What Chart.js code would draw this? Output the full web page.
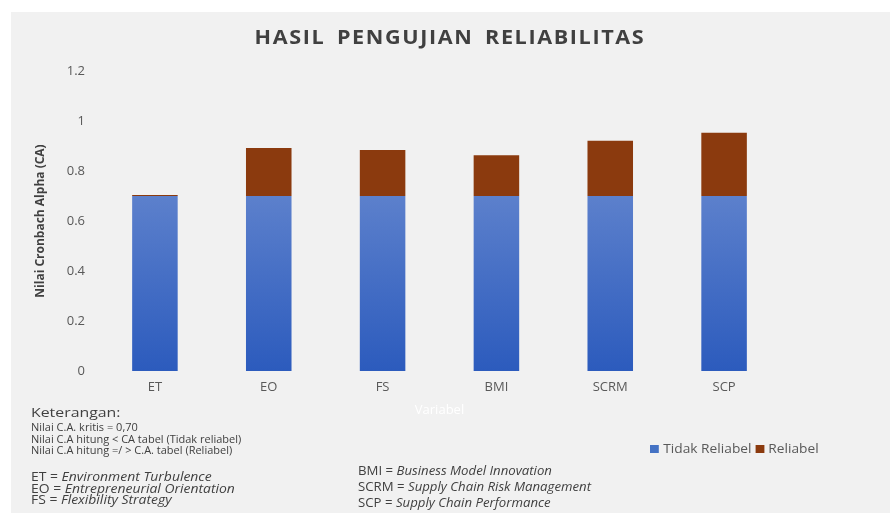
<!DOCTYPE html>
<html>
<head>
<meta charset="utf-8">
<script src="https://cdn.jsdelivr.net/npm/chart.js@4"></script>
<style>
    html, body { margin: 0; padding: 0; background: #ffffff; width: 891px; height: 518px; overflow: hidden; font-family: "Open Sans", sans-serif; }
    #panel { position: absolute; left: 11px; top: 12px; width: 879px; height: 501px; background: #f1f1f1; }
    #categoryChart { position: absolute; left: 0; top: 0; }
    .title { position: absolute; left: 0; width: 900px; top: 23px; text-align: center; font-weight: bold; font-size: 20px; letter-spacing: 1.5px; word-spacing: 4px; color: #404040; transform: scaleX(1.08); transform-origin: 450px 0; }
    .note { position: absolute; white-space: nowrap; color: #404040; transform-origin: 0 0; }
    .legend { position: absolute; top: 441px; font-size: 12.5px; line-height: 15px; color: #595959; white-space: nowrap; transform: scaleX(1.1); transform-origin: 0 0; }
    .legend span.box { display: inline-block; width: 8px; height: 8px; margin-right: 4px; }
</style>
</head>
<body>
<div id="panel">
    <canvas id="categoryChart" width="879" height="501"></canvas>
</div>
<div class="title">HASIL PENGUJIAN RELIABILITAS</div>

<div class="legend" style="left:650px;">
    <span class="box" style="background:#4472c4"></span>Tidak Reliabel
    <span class="box" style="background:#8b3a0e"></span>Reliabel
</div>

<div class="note" style="left:31px; top:405px; font-size:13px; line-height:15px; transform:scaleX(1.22);">Keterangan:</div>
<div class="note" style="left:31px; top:422px; font-size:10px; line-height:11.6px; transform:scaleX(1.1);">
    Nilai C.A. kritis = 0,70<br>
    Nilai C.A hitung &lt; CA tabel (Tidak reliabel)<br>
    Nilai C.A hitung =/ &gt; C.A. tabel (Reliabel)
</div>
<div class="note" style="left:31px; top:471px; font-size:12px; line-height:11.7px; transform:scaleX(1.16);">
    ET = <i>Environment Turbulence</i><br>
    EO = <i>Entrepreneurial Orientation</i><br>
    FS = <i>Flexibility Strategy</i>
</div>
<div class="note" style="left:358px; top:463px; font-size:12px; line-height:16px; transform:scaleX(1.1);">
    BMI = <i>Business Model Innovation</i><br>
    SCRM = <i>Supply Chain Risk Management</i><br>
    SCP = <i>Supply Chain Performance</i>
</div>

<script>
// values
const variabel = ['ET', 'EO', 'FS', 'BMI', 'SCRM', 'SCP'];
const tidakReliabel = [0.700, 0.700, 0.700, 0.700, 0.700, 0.700];
const reliabel = [0.004, 0.192, 0.184, 0.163, 0.221, 0.253];
const yTicks = [0, 0.2, 0.4, 0.6, 0.8, 1, 1.2];

document.addEventListener('DOMContentLoaded', () => {
    const ctx = document.getElementById('categoryChart');

    // blue bars fade from dark at the base to lighter at the top
    function blueFill(context) {
        const chart = context.chart;
        const area = chart.chartArea;
        if (!area) return '#4472c4';
        const yScale = chart.scales.y;
        const g = chart.ctx.createLinearGradient(0, area.bottom, 0, yScale.getPixelForValue(0.7));
        g.addColorStop(0, '#2c5bbd');
        g.addColorStop(1, '#5c80cc');
        return g;
    }

    new Chart(ctx, {
        type: 'bar',
        data: {
            labels: variabel,
            datasets: [{
                label: 'Tidak Reliabel',
                data: tidakReliabel,
                backgroundColor: blueFill,
                borderWidth: 0,
                barPercentage: 0.8,
                categoryPercentage: 0.5
            }, {
                label: 'Reliabel',
                data: reliabel,
                backgroundColor: '#8b3a0e',
                borderWidth: 0,
                barPercentage: 0.8,
                categoryPercentage: 0.5
            }]
        },
        options: {
            responsive: false,
            animation: false,
            layout: {
                padding: { left: 0, right: 109, top: 59, bottom: 91 }
            },
            scales: {
                x: {
                    stacked: true,
                    grid: { display: false, drawTicks: false },
                    border: { display: false },
                    ticks: {
                        color: '#595959',
                        padding: 8,
                        font: { family: 'Open Sans', size: 13 }
                    },
                    title: {
                        display: true,
                        text: 'Variabel',
                        color: '#ffffff',
                        font: { family: 'Open Sans', size: 13 }
                    },
                    afterFit: (scale) => { scale.height = 51; }
                },
                y: {
                    stacked: true,
                    min: 0,
                    max: 1.2,
                    grid: { display: false, drawTicks: false },
                    border: { display: false },
                    afterBuildTicks: (scale) => {
                        scale.ticks = yTicks.map(v => ({ value: v }));
                    },
                    ticks: {
                        color: '#595959',
                        padding: 13,
                        font: { family: 'Open Sans', size: 13 },
                        callback: (v) => String(v)
                    },
                    title: {
                        display: true,
                        text: 'Nilai Cronbach Alpha (CA)',
                        color: '#404040',
                        padding: { top: 22, bottom: 4 },
                        font: { family: 'Open Sans', size: 12, weight: 'bold' }
                    },
                    afterFit: (scale) => { scale.width = 87; }
                }
            },
            plugins: {
                legend: { display: false },
                title: { display: false },
                tooltip: { enabled: false }
            }
        }
    });
});
</script>
</body>
</html>
